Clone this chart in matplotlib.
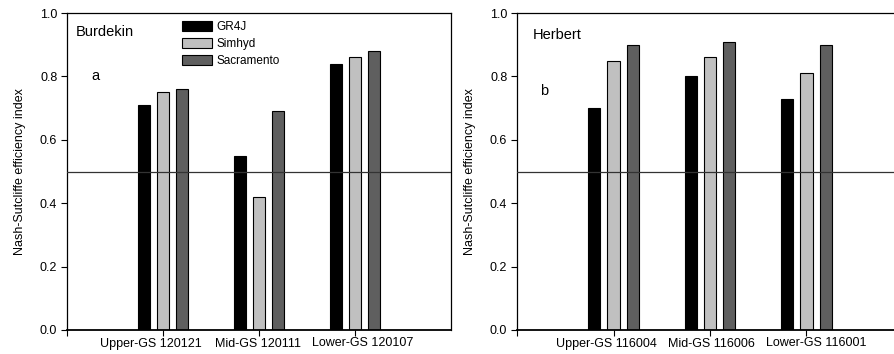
import numpy as np
import matplotlib
matplotlib.use('Agg')
import matplotlib.pyplot as plt
import matplotlib.transforms as mtransforms
from matplotlib.patches import Patch

plt.rcParams['font.family'] = ['Liberation Sans', 'DejaVu Sans']

# Data
models = ['GR4J', 'Simhyd', 'Sacramento']
colors = ['#000000', '#c0c0c0', '#5f5f5f']

burdekin_sites = ['Upper-GS 120121', 'Mid-GS 120111', 'Lower-GS 120107']
burdekin_gr4j = [0.71, 0.55, 0.84]
burdekin_simhyd = [0.75, 0.42, 0.86]
burdekin_sacramento = [0.76, 0.69, 0.88]

herbert_sites = ['Upper-GS 116004', 'Mid-GS 116006', 'Lower-GS 116001']
herbert_gr4j = [0.70, 0.80, 0.73]
herbert_simhyd = [0.85, 0.86, 0.81]
herbert_sacramento = [0.90, 0.91, 0.90]

threshold = 0.5

fig = plt.figure(figsize=(8.94, 3.54), dpi=100)
ax1 = fig.add_axes([67 / 894, 1 - 330 / 354, 384 / 894, 317 / 354])
ax2 = fig.add_axes([517 / 894, 1 - 330 / 354, 386 / 894, 317 / 354])


def draw_panel(ax, sites, series, label_shift):
    x = np.arange(1, len(sites) + 1)
    offsets = [-0.2, 0.0, 0.2]
    for vals, off, c in zip(series, offsets, colors):
        ax.bar(x + off, vals, width=0.125, color=c, edgecolor='black', linewidth=0.8, zorder=2)
    ax.axhline(threshold, color='#333333', linewidth=0.9, zorder=3)
    ax.set_xlim(0, 4)
    ax.set_ylim(0, 1.0)
    ax.set_xticks([0, 1, 2, 3])
    ax.set_xticklabels([''] + sites, fontsize=9)
    ax.set_yticks([0, 0.2, 0.4, 0.6, 0.8, 1.0])
    ax.set_yticklabels(['0.0', '0.2', '0.4', '0.6', '0.8', '1.0'], fontsize=9)
    ax.tick_params(direction='out', length=4, width=0.8, pad=3)
    # site labels are not exactly centred under their ticks in the original
    for lab, (dx, dy) in zip(ax.get_xticklabels()[1:], label_shift):
        off = mtransforms.ScaledTranslation(dx / 100, dy / 100, fig.dpi_scale_trans)
        lab.set_transform(lab.get_transform() + off)
    ax.set_ylabel('Nash-Sutcliffe efficiency index', fontsize=9, labelpad=10)
    for s in ax.spines.values():
        s.set_linewidth(0.9)
    ax.spines['bottom'].set_linewidth(1.3)


draw_panel(ax1, burdekin_sites, [burdekin_gr4j, burdekin_simhyd, burdekin_sacramento],
           [(-12, 1.5), (-1, 1.5), (8, 3)])
draw_panel(ax2, herbert_sites, [herbert_gr4j, herbert_simhyd, herbert_sacramento],
           [(-7, 1.5), (1, 1.5), (10, 3)])

ax1.text(0.022, 0.94, 'Burdekin', transform=ax1.transAxes, fontsize=10.5, va='center')
ax1.text(0.063, 0.80, 'a', transform=ax1.transAxes, fontsize=10.5, va='center')
ax2.text(0.04, 0.93, 'Herbert', transform=ax2.transAxes, fontsize=10.5, va='center')
ax2.text(0.06, 0.755, 'b', transform=ax2.transAxes, fontsize=10.5, va='center')

handles = [Patch(facecolor=c, edgecolor='black', linewidth=0.8) for c in colors]
ax1.legend(handles, models, loc='upper left', bbox_to_anchor=(0.277, 1.0), frameon=False,
           fontsize=8.5, handlelength=2.6, handleheight=0.85, labelspacing=0.42,
           handletextpad=0.35, borderaxespad=0.3)

fig.savefig('out.png', dpi=100)
